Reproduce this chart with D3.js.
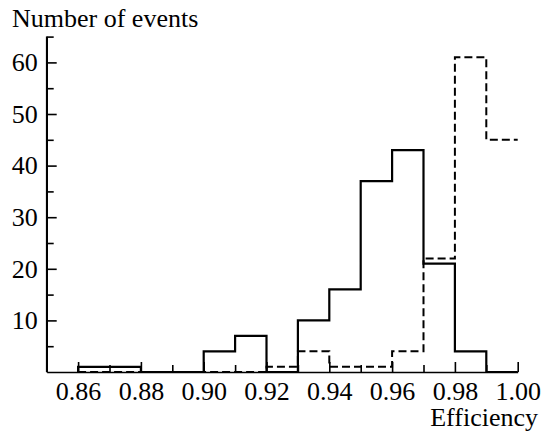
<!DOCTYPE html>
<html>
<head>
<meta charset="utf-8">
<script src="https://cdn.jsdelivr.net/npm/d3@7"></script>
</head>
<body style="margin:0; background:#fff">
<svg data-chart width="543" height="432"></svg>
<script>
// bin starts, width 0.01
const binStarts = [0.86, 0.87, 0.88, 0.89, 0.90, 0.91, 0.92, 0.93, 0.94, 0.95, 0.96, 0.97, 0.98, 0.99]
const solidCounts = [1, 1, 0, 0, 4, 7, 0, 10, 16, 37, 43, 21, 4, 0]
const dashedCounts = [0, 0, 0, 0, 0, 0, 1, 4, 1, 1, 4, 22, 61, 45]

const xMajor = [0.86, 0.88, 0.90, 0.92, 0.94, 0.96, 0.98, 1.00]
const xMinor = [0.87, 0.89, 0.91, 0.93, 0.95, 0.97, 0.99]
const yMajor = [10, 20, 30, 40, 50, 60]
const yMinor = [5, 15, 25, 35, 45, 55, 65]

const binWidth = 0.01
const font = 'Liberation Serif'
const fontSize = 26

let svg = d3.select('[data-chart]')

let x = d3.scaleLinear().domain([0.85, 1.0]).range([46.7, 517.7])
let y = d3.scaleLinear().domain([0, 65]).range([372, 36.6])

function styleAxis(g) {
    g.attr('font-family', font).attr('font-size', fontSize)
    g.selectAll('path, line').attr('stroke', '#000').attr('stroke-width', 1.6)
    g.selectAll('text').attr('fill', '#000')
}

// x axis, ticks pointing inward
svg.append('g')
    .attr('transform', `translate(0,${y(0)})`)
    .call(d3.axisBottom(x).tickValues(xMajor).tickSize(-10).tickSizeOuter(0)
        .tickPadding(10).tickFormat(d3.format('.2f')))
    .call(styleAxis)

svg.append('g')
    .attr('transform', `translate(0,${y(0)})`)
    .call(d3.axisBottom(x).tickValues(xMinor).tickSize(-7).tickSizeOuter(0).tickFormat(''))
    .call(styleAxis)
    .call(g => g.select('.domain').remove())

// y axis
svg.append('g')
    .attr('transform', `translate(${x(0.85)},0)`)
    .call(d3.axisLeft(y).tickValues(yMajor).tickSize(-10).tickSizeOuter(0).tickPadding(9))
    .call(styleAxis)

svg.append('g')
    .attr('transform', `translate(${x(0.85)},0)`)
    .call(d3.axisLeft(y).tickValues(yMinor).tickSize(-7).tickSizeOuter(0).tickFormat(''))
    .call(styleAxis)
    .call(g => g.select('.domain').attr('d', `M0,${y(0)}V${y(65)}`))

// histograms as step lines
let line = d3.line()
    .x(d => x(d[0]))
    .y(d => y(d[1]))
    .curve(d3.curveStepAfter)

let lastEdge = binStarts[binStarts.length - 1] + binWidth

let solidPts = [[binStarts[0], 0]].concat(binStarts.map((b, i) => [b, solidCounts[i]]))
solidPts.push([lastEdge, solidCounts[solidCounts.length - 1]])

let dashedPts = [[binStarts[0], 0]].concat(binStarts.map((b, i) => [b, dashedCounts[i]]))
dashedPts.push([lastEdge, dashedCounts[dashedCounts.length - 1]])

svg.append('path')
    .attr('d', line(dashedPts))
    .attr('fill', 'none')
    .attr('stroke', '#000')
    .attr('stroke-width', 2)
    .attr('stroke-dasharray', '8,4')

svg.append('path')
    .attr('d', line(solidPts))
    .attr('fill', 'none')
    .attr('stroke', '#000')
    .attr('stroke-width', 2.2)

// titles
svg.append('text')
    .attr('x', 12)
    .attr('y', 27)
    .attr('font-family', font)
    .attr('font-size', fontSize)
    .text('Number of events')

svg.append('text')
    .attr('x', 538)
    .attr('y', 426)
    .attr('text-anchor', 'end')
    .attr('font-family', font)
    .attr('font-size', fontSize)
    .text('Efficiency')
</script>
</body>
</html>
